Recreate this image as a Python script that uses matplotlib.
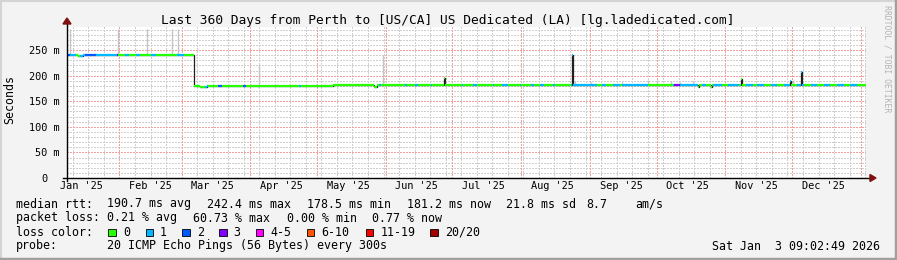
import datetime as dt
import numpy as np
import matplotlib
matplotlib.use('Agg')
import matplotlib.pyplot as plt
from matplotlib.collections import LineCollection
from matplotlib.patches import Rectangle, Polygon
from matplotlib.lines import Line2D
from matplotlib.transforms import ScaledTranslation

plt.rcParams['font.family'] = ['DejaVu Sans Mono']

# ---- data (x = days since graph start) ----
start = dt.datetime(2025, 1, 8, 9, 2, 49)
span_days = 360

# median rtt, step points
rtt_day = [0, 5, 7, 56.8, 57.2, 60, 63, 66, 70, 75, 80, 86, 92, 100, 110, 120, 130,
           138.5, 139.5, 145, 160, 169.7, 169.9, 170.3, 200, 227.1, 227.4, 227.7,
           228.0, 260, 284.3, 284.7, 290.1, 290.5, 303.5, 303.8, 304.1, 325.6,
           325.9, 326.2, 330.6, 330.9, 331.3, 345]
rtt_ms = [241, 238.5, 241, 241, 179, 178.5, 179.5, 180, 179, 180, 180.5, 180, 180.5,
          180, 180.5, 181, 181, 178, 181, 181.5, 181, 181, 195, 181.5, 182, 182, 200,
          241, 182, 182, 178, 182, 178, 182, 182, 193, 182, 182, 190, 182, 182, 207,
          182, 181.5]

# loss colour index per stretch (0 = no loss, 1 = 1/20, 2 = 2/20, 3 = 3/20)
loss_day = [0, 1.2, 4, 6, 8, 13, 14, 22.6, 23.1, 26, 28, 31, 33, 38, 40, 49.5,
            52.5, 57, 62, 63.5, 68, 70, 79.5, 80.5, 104.5, 105.5, 140.5, 141.5,
            152.5, 153.2, 157, 158.2, 164, 164.6, 178, 178.6, 183, 184.8, 192,
            192.6, 196, 198.5, 204, 204.6, 209, 210.5, 213, 215, 219, 220,
            227, 228, 239, 241, 243, 246, 249, 250, 262, 273, 273.6, 276, 284.5,
            286, 288, 291, 295, 298, 303, 306, 309, 311, 314, 317, 320, 323, 326,
            329, 332, 335, 338, 341, 344, 347, 350, 353, 356]
loss_idx = [2, 1, 0, 1, 2, 1, 1, 3, 0, 1, 0, 1, 0, 1, 0, 1,
            0, 0, 1, 0, 2, 0, 2, 0, 1, 0, 1, 0,
            1, 0, 1, 0, 1, 0, 1, 0, 1, 0, 1,
            0, 1, 0, 1, 0, 1, 0, 1, 0, 1, 0,
            1, 1, 0, 1, 0, 1, 0, 1, 0, 1, 3, 1, 0,
            1, 0, 1, 0, 1, 0, 1, 0, 1, 0, 1, 0, 1, 0,
            1, 0, 1, 0, 1, 0, 1, 0, 1, 0]

# smoke (spread of the 20 pings)
smoke_day = [1.4, 23.2, 36, 47.5, 50, 86.5, 142.4, 229, 236, 250, 262, 266, 272,
             276, 282, 327]
smoke_lo = [241, 241, 241, 241, 241, 180, 181, 182, 182, 182, 182, 182, 182, 182,
            182, 182]
smoke_hi = [292, 292, 292, 292, 292, 220, 240, 189, 188, 187, 191, 191, 189, 188,
            190, 192]

loss_labels = ['0', '1', '2', '3', '4-5', '6-10', '11-19', '20/20']
loss_colors = ['#26ff00', '#00b8ff', '#0059ff', '#7e00ff', '#ff00ff', '#ff5500',
               '#ff0000', '#a10000']

month_labels = ["Jan '25", "Feb '25", "Mar '25", "Apr '25", "May '25", "Jun '25",
                "Jul '25", "Aug '25", "Sep '25", "Oct '25", "Nov '25", "Dec '25"]
y_ticks = [0, 50, 100, 150, 200, 250]
y_labels = ['0', '50 m', '100 m', '150 m', '200 m', '250 m']


def day(t):
    return (t - start).total_seconds() / 86400.0


W, H = 897, 260
fig = plt.figure(figsize=(W / 100, H / 100), dpi=100)
fig.patch.set_facecolor('#f3f3f3')

# frame like rrdtool
fig.add_artist(Line2D([0, 1], [1 - 1 / H, 1 - 1 / H], color='#d4d4d4', lw=1.5))
fig.add_artist(Line2D([1 / W, 1 / W], [0, 1], color='#d4d4d4', lw=1.5))
fig.add_artist(Line2D([0, 1], [1.5 / H, 1.5 / H], color='#a0a0a0', lw=2.5))
fig.add_artist(Line2D([1 - 1.5 / W, 1 - 1.5 / W], [0, 1], color='#a0a0a0', lw=2.5))

ax = fig.add_axes([67 / W, 82 / H, 799 / W, 151 / H])
ax.set_facecolor('white')
ax.set_xlim(0, span_days)
ax.set_ylim(0, 295)
for s in ax.spines.values():
    s.set_visible(False)

# grid
dots = (0, (1.4, 1.4))
minor_c, major_c = '#cfcfcf', '#f3a0a0'
for v in range(10, 300, 10):
    if v % 50:
        ax.axhline(v, color=minor_c, lw=0.72, ls=dots, zorder=0, antialiased=False)
for v in range(50, 300, 50):
    ax.axhline(v, color=major_c, lw=0.72, ls=dots, zorder=0.5, antialiased=False)

t = dt.datetime(2025, 1, 11)
while day(t) < span_days:
    ax.axvline(day(t), color=minor_c, lw=0.72, ls=dots, zorder=0, antialiased=False)
    t += dt.timedelta(days=7)
for m in range(2, 14):
    t = dt.datetime(2025 + (m - 1) // 12, (m - 1) % 12 + 1, 1)
    ax.axvline(day(t), color=major_c, lw=0.72, ls=dots, zorder=0.5, antialiased=False)

# smoke
ax.vlines(smoke_day, smoke_lo, smoke_hi, color='#c4c4c4', lw=1.0, zorder=1)

# median line, dark underneath
rx = list(rtt_day) + [span_days]
ry = list(rtt_ms) + [rtt_ms[-1]]
ax.plot(rx, ry, drawstyle='steps-post', color='#202020', lw=0.9, zorder=2)

# coloured by loss
edges = sorted(set(rtt_day) | set(loss_day) | {span_days})
segs, cols = [], []
for a, b in zip(edges[:-1], edges[1:]):
    v = rtt_ms[np.searchsorted(rtt_day, a, side='right') - 1]
    li = loss_idx[np.searchsorted(loss_day, a, side='right') - 1]
    segs.append([(a, v), (b, v)])
    cols.append(loss_colors[li])
ax.add_collection(LineCollection(segs, colors=cols, linewidths=1.6, zorder=3,
                                 capstyle='butt'))

# axes lines with arrows
ax.plot([-4 / 799, 1.005], [0, 0], transform=ax.transAxes, color='black', lw=1,
        clip_on=False, zorder=5)
ax.plot([0, 0], [-3 / 151, 1.02], transform=ax.transAxes, color='black', lw=1,
        clip_on=False, zorder=5)
ax.add_patch(Polygon([(0 - 4 / 799, 1.02), (0 + 4 / 799, 1.02), (0, 1.02 + 6 / 151)],
                     closed=True, transform=ax.transAxes, color='#7f1010',
                     clip_on=False, zorder=6))
ax.add_patch(Polygon([(1.005, 3.5 / 151), (1.005, -3.5 / 151), (1.005 + 6 / 799, 0)],
                     closed=True, transform=ax.transAxes, color='#7f1010',
                     clip_on=False, zorder=6))

# ticks
ax.set_yticks(y_ticks)
ax.set_yticklabels(y_labels)
ax.tick_params(axis='y', length=0, pad=5.5, labelsize=7.4)
lab0 = ax.get_yticklabels()[0]
lab0.set_transform(lab0.get_transform() + ScaledTranslation(-0.12, 0, fig.dpi_scale_trans))
mid = [day(dt.datetime(2025, m, 15)) for m in range(1, 13)]
ax.set_xticks(mid)
ax.set_xticklabels(month_labels)
ax.tick_params(axis='x', length=0, pad=2.5, labelsize=7.4)

fig.text(10 / W, 1 - 100 / H, 'Seconds', rotation=90, ha='center', va='center',
         fontsize=8.4)
fig.text(448 / W, 1 - 24 / H,
         'Last 360 Days from Perth to [US/CA] US Dedicated (LA) [lg.ladedicated.com]',
         ha='center', va='baseline', fontsize=9.3)
fig.text(887 / W, 1 - 59 / H, 'RRDTOOL / TOBI OETIKER', rotation=-90, ha='center',
         va='center', fontsize=5.9, color='#b4b4b4')

# legend
fs = 8.4


def put(x, y, s, **kw):
    fig.text(x / W, 1 - y / H, s, ha='left', va='baseline', fontsize=fs, **kw)


for x, s in [(16, 'median rtt:'), (107, '190.7 ms avg'), (207, '242.4 ms max'),
             (307, '178.5 ms min'), (407, '181.2 ms now'), (506, '21.8 ms sd'),
             (586, '8.7'), (635, 'am/s')]:
    put(x, 207.5, s)
for x, s in [(16, 'packet loss:'), (107, '0.21 % avg'), (193, '60.73 % max'),
             (287, '0.00 % min'), (372, '0.77 % now')]:
    put(x, 221.5, s)
put(16, 235.5, 'loss color:')
box_x = [108.3, 145.7, 182.3, 219, 255.7, 306.7, 365.7, 430]
txt_x = [123.3, 160, 196.7, 233.3, 270.7, 321.7, 380.7, 445]
for bx, tx, c, lab in zip(box_x, txt_x, loss_colors, loss_labels):
    fig.add_artist(Rectangle((bx / W, 1 - 236 / H), 7.5 / W, 7.5 / H,
                             facecolor=c, edgecolor='black', lw=0.6))
    put(tx, 235.5, lab)
put(16, 249.5, 'probe:')
put(107, 249.5, '20 ICMP Echo Pings (56 Bytes) every 300s')
fig.text(880 / W, 1 - 249.5 / H, 'Sat Jan  3 09:02:49 2026', ha='right',
         va='baseline', fontsize=fs)

fig.savefig('out.png', dpi=100, facecolor=fig.get_facecolor())
